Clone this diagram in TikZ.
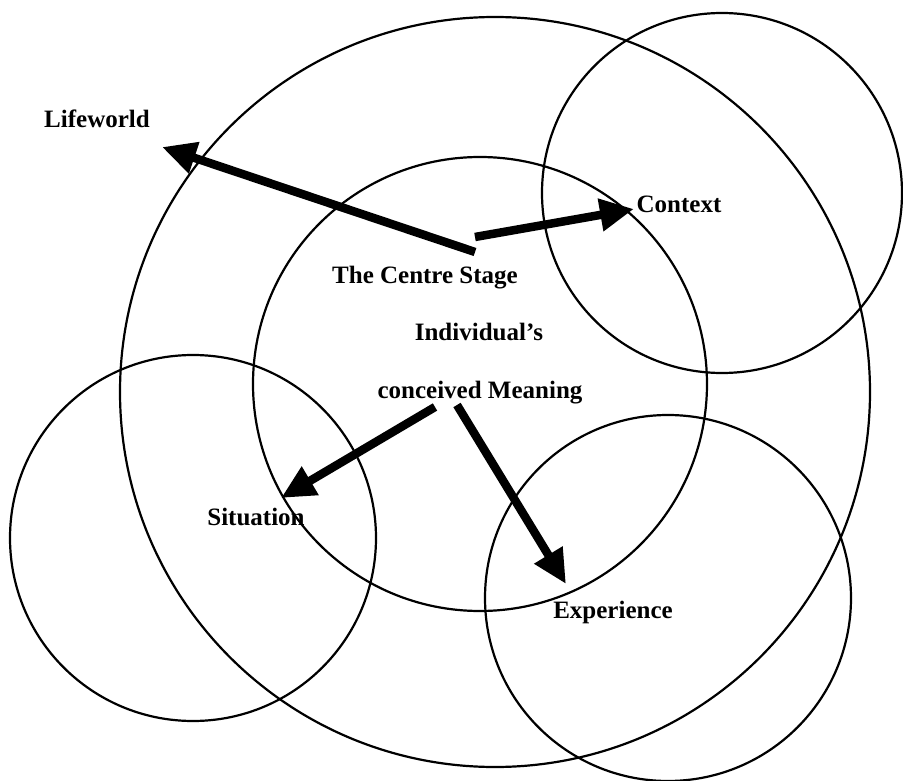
\documentclass[tikz,border=0pt]{standalone}
\usepackage{fontspec}
\setmainfont{Liberation Serif}
\usetikzlibrary{arrows.meta}
\begin{document}
\begin{tikzpicture}[x=1pt,y=-1pt,
  ring/.style={draw=black, line width=2.2pt, circle, inner sep=0pt},
  lbl/.style={font=\fontsize{25}{30}\selectfont\bfseries, anchor=base, inner sep=0pt},
  bigarrow/.style={line width=8.5pt, -{Triangle[length=34pt,width=31pt]}}]
\useasboundingbox (0,0) rectangle (903,781);
% circles
\node[ring, minimum size=750pt] (lifeworldring) at (495,392) {};
\node[ring, minimum size=454pt] (centrering) at (480,384) {};
\node[ring, minimum size=360pt] (contextring) at (722,193) {};
\node[ring, minimum size=366pt] (situationring) at (193,538) {};
\node[ring, minimum size=366pt] (experiencering) at (668,598) {};
% labels
\node[lbl] (lifeworld) at (97,128) {Lifeworld};
\node[lbl] (context) at (679,212) {Context};
\node[lbl] (centre) at (425,283) {The Centre Stage};
\node[lbl] (individual) at (479,340) {Individual’s};
\node[lbl] (meaning) at (480,398) {conceived Meaning};
\node[lbl] (situation) at (256,525) {Situation};
\node[lbl] (experience) at (613,618) {Experience};
% arrow end points
\coordinate (lwstart) at (475,252);
\coordinate (lwtip) at (162,147);
\coordinate (ctstart) at (475,237);
\coordinate (cttip) at (634,209);
\coordinate (sistart) at (435,407);
\coordinate (sitip) at (281,498);
\coordinate (exstart) at (457,405);
\coordinate (extip) at (566,584);
% arrows
\draw[bigarrow] (lwstart) -- (lwtip);
\draw[bigarrow] (ctstart) -- (cttip);
\draw[bigarrow] (sistart) -- (sitip);
\draw[bigarrow] (exstart) -- (extip);
\end{tikzpicture}
\end{document}
